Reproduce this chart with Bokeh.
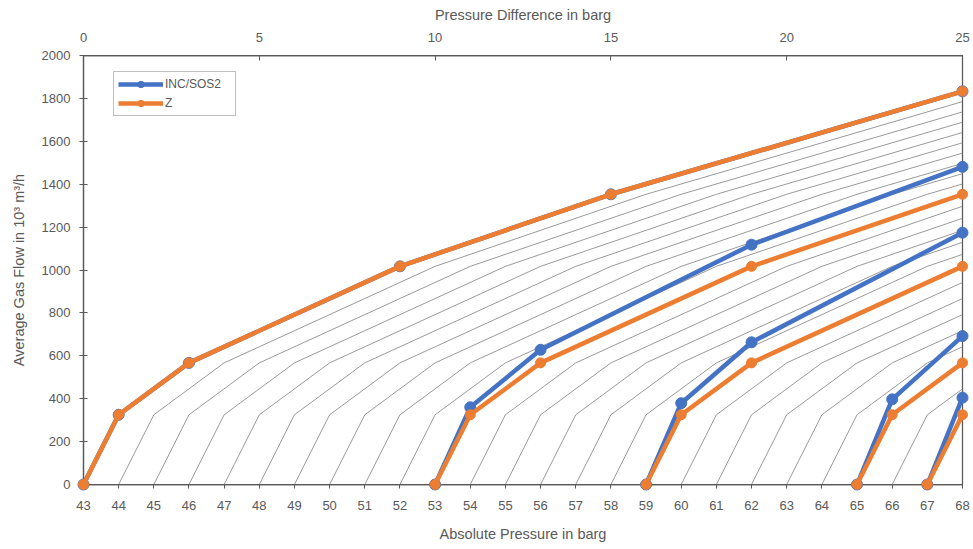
from bokeh.plotting import figure
from bokeh.models import Range1d, LinearAxis, FixedTicker, Legend, LegendItem
from bokeh.embed import file_html
from bokeh.resources import INLINE

# ---- data ----
# base flow curve (Z): pressure-difference offsets and flows
base_offsets = [0, 1, 3, 9, 15, 25]
base_flows = [0, 325, 567, 1017, 1353, 1833]
# start pressures of the thin family curves
family_starts = list(range(43, 68))

# INC/SOS2 series segments (absolute pressure, flow)
inc_x = [[43, 44, 46, 52, 58, 68], [53, 54, 56, 62, 68], [59, 60, 62, 68], [65, 66, 68], [67, 68]]
inc_y = [[0, 325, 567, 1017, 1353, 1833], [0, 360, 628, 1118, 1481], [0, 379, 663, 1174], [0, 397, 692], [0, 405]]
# Z series segments
z_x = [[43, 44, 46, 52, 58, 68], [53, 54, 56, 62, 68], [59, 60, 62, 68], [65, 66, 68], [67, 68]]
z_y = [[0, 325, 567, 1017, 1353, 1833], [0, 325, 567, 1017, 1353], [0, 325, 567, 1017], [0, 325, 567], [0, 325]]

x_ticks = list(range(43, 69))
y_ticks = list(range(0, 2001, 200))
top_ticks = [0, 5, 10, 15, 20, 25]

BLUE = "#4472C4"
ORANGE = "#ED7D31"
TXT = "#595959"
AX = "#595959"
FONT = "Liberation Sans"

p = figure(width=973, height=549, output_backend="svg", toolbar_location=None,
           x_range=Range1d(43, 68), y_range=Range1d(0, 2000),
           min_border_left=83, min_border_right=11, min_border_top=55, min_border_bottom=65,
           background_fill_color="white", border_fill_color="white")
p.extra_x_ranges = {"diff": Range1d(0, 25)}
p.xgrid.visible = False
p.ygrid.visible = False
p.outline_line_color = AX
p.outline_line_width = 1.25

# thin family curves (clipped by the frame)
fam_xs = [[s + o for o in base_offsets] for s in family_starts]
fam_ys = [list(base_flows) for _ in family_starts]
p.multi_line(fam_xs, fam_ys, line_color="#808080", line_width=0.8)

inc_lines, inc_pts, z_lines, z_pts = [], [], [], []
for xs, ys in zip(inc_x, inc_y):
    inc_lines.append(p.line(xs, ys, line_color=BLUE, line_width=4.5, level="overlay"))
    inc_pts.append(p.scatter(xs, ys, size=11, fill_color=BLUE, line_color=BLUE, level="overlay"))
for xs, ys in zip(z_x, z_y):
    z_lines.append(p.line(xs, ys, line_color=ORANGE, line_width=4.5, level="overlay"))
    z_pts.append(p.scatter(xs, ys, size=10, fill_color=ORANGE, line_color=ORANGE, level="overlay"))

# axes
def style_axis(ax, size="13px"):
    ax.axis_line_color = AX
    ax.axis_line_width = 1.25
    ax.major_tick_line_color = AX
    ax.major_tick_line_width = 1
    ax.minor_tick_line_color = None
    ax.major_label_text_color = TXT
    ax.major_label_text_font = FONT
    ax.major_label_text_font_size = size
    ax.axis_label_text_color = TXT
    ax.axis_label_text_font = FONT
    ax.axis_label_text_font_size = "14.5px"
    ax.axis_label_text_font_style = "normal"

xa = p.xaxis[0]
xa.ticker = FixedTicker(ticks=x_ticks)
xa.axis_label = "Absolute Pressure in barg"
style_axis(xa)
xa.major_tick_in = 0
xa.major_tick_out = 4
xa.major_label_standoff = 12
xa.axis_label_standoff = 13

ya = p.yaxis[0]
ya.ticker = FixedTicker(ticks=y_ticks)
ya.axis_label = "Average Gas Flow in 10³ m³/h"
style_axis(ya)
ya.major_tick_in = 4
ya.major_tick_out = 4
ya.major_label_standoff = 9
ya.axis_label_standoff = 12

top = LinearAxis(x_range_name="diff", ticker=FixedTicker(ticks=top_ticks),
                 axis_label="Pressure Difference in barg")
style_axis(top)
top.major_tick_in = 5
top.major_tick_out = 0
top.major_label_standoff = 14
top.axis_label_standoff = 7
p.add_layout(top, "above")

legend = Legend(items=[
    LegendItem(label="INC/SOS2", renderers=[inc_lines[0], inc_pts[0]]),
    LegendItem(label="Z", renderers=[z_lines[0], z_pts[0]]),
], location=(30, 368))
legend.label_text_font = FONT
legend.label_text_font_size = "12px"
legend.label_text_color = TXT
legend.border_line_color = "#7f7f7f"
legend.border_line_width = 1
legend.glyph_width = 45
legend.glyph_height = 16
legend.label_height = 16
legend.label_width = 66
legend.spacing = 3
legend.padding = 4
legend.margin = 0
legend.label_standoff = 2
legend.background_fill_alpha = 1
p.add_layout(legend, "center")

open("out.html", "w").write(file_html(p, INLINE))
